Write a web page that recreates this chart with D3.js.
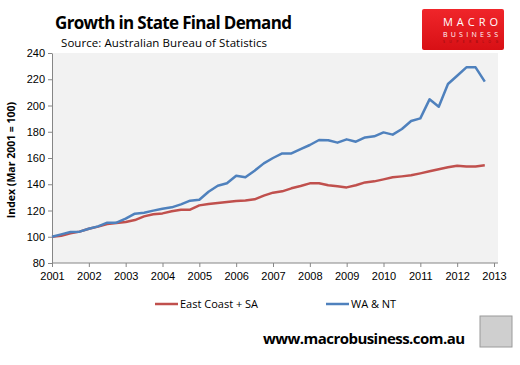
<!DOCTYPE html>
<html>
<head>
<meta charset="utf-8">
<script src="https://cdn.jsdelivr.net/npm/d3@7"></script>
<style>
  body { margin: 0; background: #fff; }
  svg { display: block; font-family: "Open Sans", "DejaVu Sans", sans-serif; }
  .axis path, .axis line { stroke: #868686; }
  .axis text { fill: #000; font-size: 11px; }
</style>
</head>
<body>
<svg id="chart" width="520" height="365"></svg>
<script>
// quarterly, Mar 2001 .. Dec 2012
const quarters = d3.range(48).map(i => 2001 + i * 0.25);

const eastCoast = [100, 100.8, 102.6, 103.9, 106.1, 107.7, 109.7, 110.5,
    111.2, 112.7, 115.5, 117.1, 117.8, 119.4, 120.6, 120.6,
    123.9, 124.9, 125.7, 126.5, 127.2, 127.7, 128.5, 131.3,
    133.6, 134.6, 136.9, 138.7, 140.7, 140.7, 139.2, 138.4,
    137.6, 139.2, 141.4, 142.2, 143.7, 145.3, 146.0, 146.8,
    148.3, 149.9, 151.4, 152.9, 154.1, 153.6, 153.6, 154.4];

const waNt = [100, 101.8, 103.6, 103.9, 106.1, 107.9, 110.7, 110.7,
    113.8, 117.6, 118.3, 119.9, 121.4, 122.4, 124.7, 127.5,
    128.2, 134.3, 138.9, 140.7, 146.5, 145.3, 150.3, 155.9,
    160.0, 163.5, 163.5, 166.8, 169.9, 173.7, 173.5, 171.7,
    174.2, 172.4, 175.7, 176.5, 179.5, 177.8, 182.1, 188.2,
    190.2, 204.7, 199.1, 216.4, 222.7, 229.1, 229.1, 218.2];

const yTicks = [80, 100, 120, 140, 160, 180, 200, 220, 240];
const xTicks = d3.range(2001, 2014);

const seriesNames = ['East Coast + SA', 'WA & NT'];
const seriesColors = ['#c0504d', '#4f81bd'];

const margin = { top: 53, left: 52, right: 24, bottom: 102 };
const svg = d3.select('#chart');
const width = 520 - margin.left - margin.right;
const height = 365 - margin.top - margin.bottom;

const chart = svg.append('g')
    .attr('transform', `translate(${margin.left},${margin.top})`);

// plot background
chart.append('rect')
    .attr('width', width + 2)
    .attr('height', height)
    .attr('fill', '#f2f2f2');

const xScale = d3.scaleLinear().domain([2001, 2013]).range([0, width - 2]);
const yScale = d3.scaleLinear().domain([80, 240]).range([height, 0]);

const xAxis = d3.axisBottom(xScale).tickValues(xTicks).tickFormat(d3.format('d'))
    .tickSizeInner(4).tickSizeOuter(0);
const yAxis = d3.axisLeft(yScale).tickValues(yTicks).tickSizeInner(4).tickSizeOuter(0);

chart.append('g')
    .attr('class', 'axis x-axis')
    .attr('transform', `translate(0,${height})`)
    .call(xAxis)
    .call(g => g.select('.domain').attr('d', `M0,0H${width + 2}`))
    .selectAll('text').attr('dy', '0.95em');

chart.append('g')
    .attr('class', 'axis y-axis')
    .call(yAxis)
    .selectAll('text').attr('x', -7);

// lines
const lineGen = data => d3.line()
    .x((d, i) => xScale(quarters[i]))
    .y(d => yScale(d))(data);

[eastCoast, waNt].forEach((series, k) => {
    chart.append('path')
        .attr('d', lineGen(series))
        .attr('fill', 'none')
        .attr('stroke', seriesColors[k])
        .attr('stroke-width', 2.5)
        .attr('stroke-linejoin', 'round');
});

// y axis title
svg.append('text')
    .attr('transform', 'translate(15,160) rotate(-90)')
    .attr('text-anchor', 'middle')
    .attr('font-size', 10.5)
    .attr('font-weight', 'bold')
    .text('Index (Mar 2001 = 100)');

// title and source
svg.append('text')
    .attr('x', 55).attr('y', 29)
    .attr('font-size', 17)
    .attr('font-weight', 'bold')
    .attr('textLength', 237)
    .text('Growth in State Final Demand');

svg.append('text')
    .attr('x', 61).attr('y', 47)
    .attr('font-size', 11.5)
    .attr('textLength', 206)
    .text('Source: Australian Bureau of Statistics');

// legend
const legendX = [155, 326];
seriesNames.forEach((name, k) => {
    svg.append('line')
        .attr('x1', legendX[k]).attr('x2', legendX[k] + 23)
        .attr('y1', 304).attr('y2', 304)
        .attr('stroke', seriesColors[k])
        .attr('stroke-width', 2.5);
    svg.append('text')
        .attr('x', legendX[k] + 25).attr('y', 308)
        .attr('font-size', 11)
        .text(name);
});

// footer url
svg.append('text')
    .attr('x', 263).attr('y', 344)
    .attr('font-size', 15)
    .attr('font-weight', 'bold')
    .attr('textLength', 202)
    .text('www.macrobusiness.com.au');

// fox logo placeholder
svg.append('rect')
    .attr('x', 480).attr('y', 316).attr('width', 32).attr('height', 31)
    .attr('fill', '#cfcfcf').attr('stroke', '#9a9a9a').attr('stroke-width', 1);

// brand badge
const defs = svg.append('defs');
const grad = defs.append('linearGradient')
    .attr('id', 'badgeGrad').attr('x1', 0).attr('y1', 0).attr('x2', 0).attr('y2', 1);
grad.append('stop').attr('offset', '0%').attr('stop-color', '#f0252a');
grad.append('stop').attr('offset', '100%').attr('stop-color', '#d81015');

const badge = svg.append('g');
badge.append('rect')
    .attr('x', 422).attr('y', 9).attr('width', 82).attr('height', 41)
    .attr('rx', 2)
    .attr('fill', 'url(#badgeGrad)');
badge.append('text')
    .attr('x', 443).attr('y', 26)
    .attr('fill', '#fff')
    .attr('font-size', 11)
    .attr('textLength', 55)
    .text('MACRO');
badge.append('text')
    .attr('x', 443).attr('y', 36.5)
    .attr('fill', '#fff')
    .attr('font-size', 7)
    .attr('textLength', 55)
    .text('BUSINESS');
badge.append('text')
    .attr('x', 443).attr('y', 43)
    .attr('fill', '#8a0a0d')
    .attr('font-size', 3.5)
    .attr('textLength', 55)
    .text('SUPERBLOG');
</script>
</body>
</html>
